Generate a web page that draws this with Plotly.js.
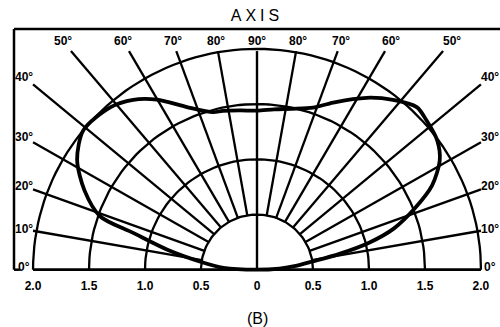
<!DOCTYPE html>
<html><head><meta charset="utf-8">
<script src="https://cdn.plot.ly/plotly-3.0.1.min.js"></script>
<style>html,body{margin:0;padding:0;background:#fff}#chart{width:500px;height:327px}.gtitle{letter-spacing:4px}</style>
</head><body><div id="chart"></div>
<script>
// grid definition
const ringRadii = [0.5, 1.0, 1.5, 2.0];
const spokeAngles = [10, 20, 30, 40, 50, 60, 70, 80, 100, 110, 120, 130, 140, 150, 160, 170];
const axisAngle = 90;
const labelAngles = [0, 10, 20, 30, 40, 50, 60, 70, 80, 90, 100, 110, 120, 130, 140, 150, 160, 170, 180];
const labelTexts = ['0°','10°','20°','30°','40°','50°','60°','70°','80°','90°','80°','70°','60°','50°','40°','30°','20°','10°','0°'];
const tickValues = [-2, -1.5, -1, -0.5, 0, 0.5, 1, 1.5, 2];
const tickLabels = ['2.0','1.5','1.0','0.5','0','0.5','1.0','1.5','2.0'];
// radiation pattern (angle from right horizontal, degrees ; relative radius)
const patternAngles = [0, 3, 6, 8.5, 11, 13.7, 17, 21.4, 26, 31.3, 36, 41.8, 45.9, 51.7, 57.8, 65.8, 71.2, 78, 84, 90, 96, 102, 105.4, 113, 120.1, 125.7, 131.7, 140.8, 148.2, 155, 161, 163.2, 167.3, 171.9, 176.9, 180];
const patternRadii  = [0, 0.2, 0.36, 0.5, 0.75, 1.03, 1.28, 1.51, 1.74, 1.91, 1.99, 2.03, 2.05, 1.96, 1.84, 1.66, 1.55, 1.49, 1.46, 1.44, 1.45, 1.47, 1.48, 1.6, 1.78, 1.895, 1.97, 2.0, 1.89, 1.7, 1.48, 1.16, 0.82, 0.51, 0.3, 0];

const D = Math.PI / 180;
const topY = 1.98, sideX = 2.0, labTop = 2.07, labSide = 2.08;
const LINE = '#000';
const GW = 2.3;
const traces = [];

// rings
ringRadii.forEach(r => {
  const xs = [], ys = [];
  for (let a = 0; a <= 180; a += 2) { xs.push(r * Math.cos(a * D)); ys.push(r * Math.sin(a * D)); }
  traces.push({x: xs, y: ys, mode: 'lines', line: {color: LINE, width: GW}, hoverinfo: 'skip'});
});
// spokes
function spokeEnd(a) {
  const c = Math.cos(a * D), s = Math.sin(a * D);
  return Math.min(s > 1e-9 ? topY / s : 1e9, Math.abs(c) > 1e-9 ? sideX / Math.abs(c) : 1e9);
}
spokeAngles.forEach(a => {
  const c = Math.cos(a * D), s = Math.sin(a * D), r0 = ringRadii[0], r1 = spokeEnd(a);
  traces.push({x: [r0 * c, r1 * c], y: [r0 * s, r1 * s], mode: 'lines', line: {color: LINE, width: GW}, hoverinfo: 'skip'});
});
// axis (90°) line and baseline
traces.push({x: [0, 0], y: [0, spokeEnd(axisAngle)], mode: 'lines', line: {color: LINE, width: 2.4}, hoverinfo: 'skip'});
traces.push({x: [-ringRadii[3], ringRadii[3]], y: [0, 0], mode: 'lines', line: {color: LINE, width: 2.8}, hoverinfo: 'skip'});
// pattern
traces.push({
  x: patternAngles.map((a, i) => patternRadii[i] * Math.cos(a * D)),
  y: patternAngles.map((a, i) => patternRadii[i] * Math.sin(a * D)),
  mode: 'lines', line: {color: LINE, width: 3.8, shape: 'spline', smoothing: 0.8}, hoverinfo: 'skip'
});

const lblFont = {family: 'Liberation Sans, Arial, sans-serif', size: 12, color: '#000', weight: 'bold'};
const annotations = labelAngles.map((a, i) => {
  const c = Math.cos(a * D), s = Math.sin(a * D);
  const t = Math.min(s > 1e-9 ? labTop / s : 1e9, Math.abs(c) > 1e-9 ? labSide / Math.abs(c) : 1e9);
  return {x: t * c, y: t * s + (s < 1e-9 ? 0.02 : 0), xref: 'x', yref: 'y', text: labelTexts[i], showarrow: false,
          font: lblFont, xanchor: 'center', yanchor: 'middle'};
});
annotations.push({x: 0.5, xref: 'paper', y: -0.185, yref: 'paper', text: '(B)', showarrow: false,
  font: {family: 'Liberation Sans, Arial, sans-serif', size: 16, color: '#000'}, xanchor: 'center', yanchor: 'middle'});

const layout = {
  width: 500, height: 327,
  margin: {l: 14, r: 0, t: 29, b: 54},
  paper_bgcolor: '#fff', plot_bgcolor: '#fff',
  showlegend: false,
  title: {text: 'AXIS', x: 0.5, xref: 'paper', xanchor: 'center', y: 1 - 15 / 327, yanchor: 'middle',
          font: {family: 'Liberation Sans, Arial, sans-serif', size: 16, color: '#000'}},
  xaxis: {range: [-2.17, 2.17], showgrid: false, zeroline: false, showline: false, ticks: '',
          tickmode: 'array', tickvals: tickValues, ticktext: tickLabels, ticklabelstandoff: 4,
          tickfont: {family: 'Liberation Sans, Arial, sans-serif', size: 12, color: '#000', weight: 'bold'}, fixedrange: true},
  yaxis: {range: [-0.03, 2.18], showgrid: false, zeroline: false, showline: false, showticklabels: false, ticks: '', fixedrange: true},
  shapes: [
    {type: 'line', xref: 'paper', yref: 'paper', x0: 0, x1: 1, y0: 1, y1: 1, line: {color: '#000', width: 2.5}},
    {type: 'line', xref: 'paper', yref: 'y', x0: 0, x1: 0, y0: 0, y1: 2.18, line: {color: '#000', width: 2.5}},
    {type: 'line', xref: 'paper', yref: 'y', x0: 0, x1: 0.012, y0: 0, y1: 0, line: {color: '#000', width: 2.5}}
  ],
  annotations: annotations
};
Plotly.newPlot('chart', traces, layout, {staticPlot: true, displayModeBar: false});
</script>
</body></html>
